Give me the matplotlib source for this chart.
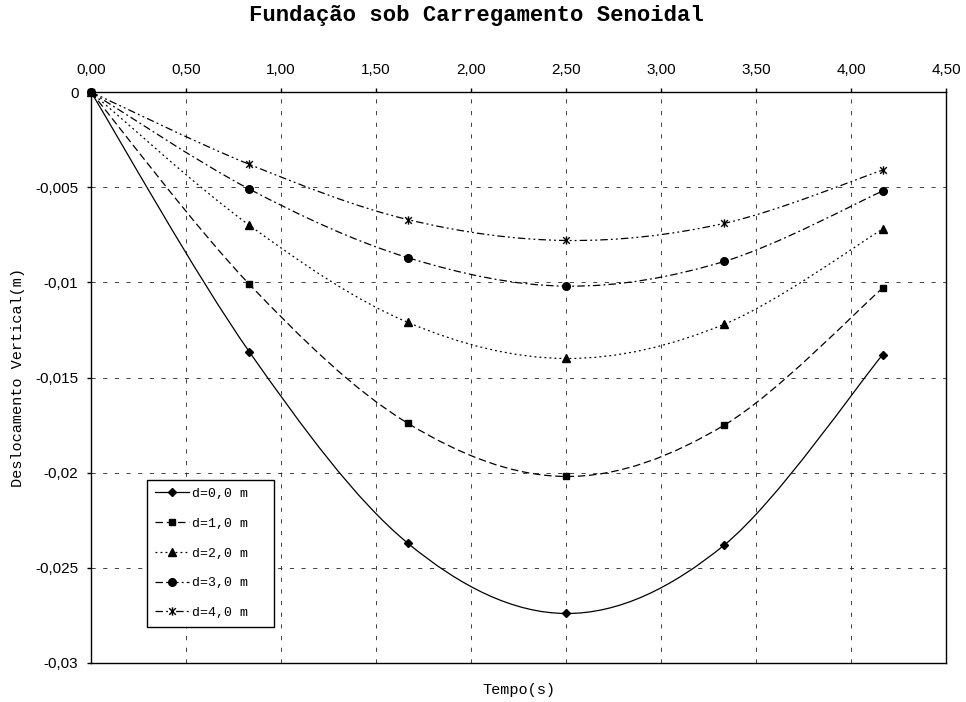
import matplotlib
matplotlib.use("Agg")
import matplotlib.pyplot as plt
from matplotlib.path import Path
from matplotlib.patches import PathPatch
from matplotlib.lines import Line2D

# dados
tempo = [0.0, 0.8333, 1.6667, 2.5, 3.3333, 4.1667]
d0 = [0.0, -0.01365, -0.0237, -0.0274, -0.0238, -0.0138]
d1 = [0.0, -0.0101, -0.0174, -0.0202, -0.0175, -0.0103]
d2 = [0.0, -0.0070, -0.0121, -0.0140, -0.0122, -0.0072]
d3 = [0.0, -0.0051, -0.0087, -0.0102, -0.0089, -0.0052]
d4 = [0.0, -0.0038, -0.0067, -0.0078, -0.0069, -0.0041]
labels = ["d=0,0 m", "d=1,0 m", "d=2,0 m", "d=3,0 m", "d=4,0 m"]

xticks = [0.0, 0.5, 1.0, 1.5, 2.0, 2.5, 3.0, 3.5, 4.0, 4.5]
xtick_labels = ["0,00", "0,50", "1,00", "1,50", "2,00", "2,50", "3,00", "3,50", "4,00", "4,50"]
yticks = [0.0, -0.005, -0.01, -0.015, -0.02, -0.025, -0.03]
ytick_labels = ["0", "-0,005", "-0,01", "-0,015", "-0,02", "-0,025", "-0,03"]

# estrela do Excel: barra vertical + X
star = Path([(0, -1), (0, 1), (-0.8, -0.8), (0.8, 0.8), (-0.8, 0.8), (0.8, -0.8)],
            [Path.MOVETO, Path.LINETO, Path.MOVETO, Path.LINETO, Path.MOVETO, Path.LINETO])

styles = [
    dict(ls="-", marker="D", ms=4.2),
    dict(ls=(0, (6, 3)), marker="s", ms=5),
    dict(ls=(0, (1.5, 2.5)), marker="^", ms=5.5),
    dict(ls=(0, (6, 2.5, 1.5, 2.5)), marker="o", ms=5.5),
    dict(ls=(0, (6, 2.5, 1.5, 2.5, 1.5, 2.5)), marker=star, ms=6),
]


def smooth_path(x, y):
    # curva suavizada tipo Excel (Bezier / Catmull-Rom)
    pts = list(zip(x, y))
    n = len(pts)
    verts = [pts[0]]
    codes = [Path.MOVETO]
    for i in range(n - 1):
        p0 = pts[i - 1] if i > 0 else pts[i]
        p1 = pts[i]
        p2 = pts[i + 1]
        p3 = pts[i + 2] if i + 2 < n else pts[i + 1]
        c1 = (p1[0] + (p2[0] - p0[0]) / 6, p1[1] + (p2[1] - p0[1]) / 6)
        c2 = (p2[0] - (p3[0] - p1[0]) / 6, p2[1] - (p3[1] - p1[1]) / 6)
        verts += [c1, c2, p2]
        codes += [Path.CURVE4] * 3
    return Path(verts, codes)


fig = plt.figure(figsize=(9.66, 7.02), dpi=100)
ax = fig.add_axes([0.0942, 0.0556, 0.8851, 0.8133])

handles = []
for serie, st, lab in zip([d0, d1, d2, d3, d4], styles, labels):
    patch = PathPatch(smooth_path(tempo, serie), fill=False, edgecolor="black",
                      lw=0.9, linestyle=st["ls"], zorder=3)
    ax.add_patch(patch)
    ax.plot(tempo, serie, ls="none", marker=st["marker"], ms=st["ms"],
            color="black", mew=1.0, clip_on=False, zorder=4)
    handles.append(Line2D([], [], color="black", lw=0.9, ls=st["ls"],
                          marker=st["marker"], ms=st["ms"], mew=1.0))

ax.set_xlim(0, 4.5)
ax.set_ylim(-0.03, 0)

ax.xaxis.tick_top()
ax.set_xticks(xticks)
ax.set_xticklabels(xtick_labels, fontfamily="Liberation Sans", fontsize=11)
ax.set_yticks(yticks)
ax.set_yticklabels(ytick_labels, fontfamily="Liberation Sans", fontsize=11)
ax.tick_params(axis="x", direction="out", length=3, width=1, pad=8)
ax.tick_params(axis="y", direction="out", length=3, width=1, pad=6)

ax.grid(True, color="#222222", lw=0.6, linestyle=(0, (5, 9)))
for s in ax.spines.values():
    s.set_color("black")
    s.set_linewidth(1)

ax.set_xlabel("Tempo(s)", fontfamily="Liberation Mono", fontsize=11)
ax.xaxis.set_label_position("bottom")
ax.xaxis.set_label_coords(0.5, -0.035)
ax.set_ylabel("Deslocamento Vertical(m)", fontfamily="Liberation Mono", fontsize=11)
ax.yaxis.set_label_coords(-0.0775, 0.5)

fig.text(0.493, 1 - 15 / 702, "Fundação sob Carregamento Senoidal",
         fontfamily="Liberation Mono", fontweight="bold", fontsize=16,
         ha="center", va="center")

leg = ax.legend(handles, labels, loc="lower left",
                bbox_to_anchor=(0.0655, 0.063, 0.1485, 0.27), mode="expand",
                borderaxespad=0, frameon=True, fancybox=False, framealpha=1,
                edgecolor="black", prop={"family": "Liberation Mono", "size": 9.5},
                handlelength=2.6, handletextpad=0.2, labelspacing=1.33,
                borderpad=0.6)
leg.get_frame().set_linewidth(1)

fig.savefig("out.png", dpi=100)
